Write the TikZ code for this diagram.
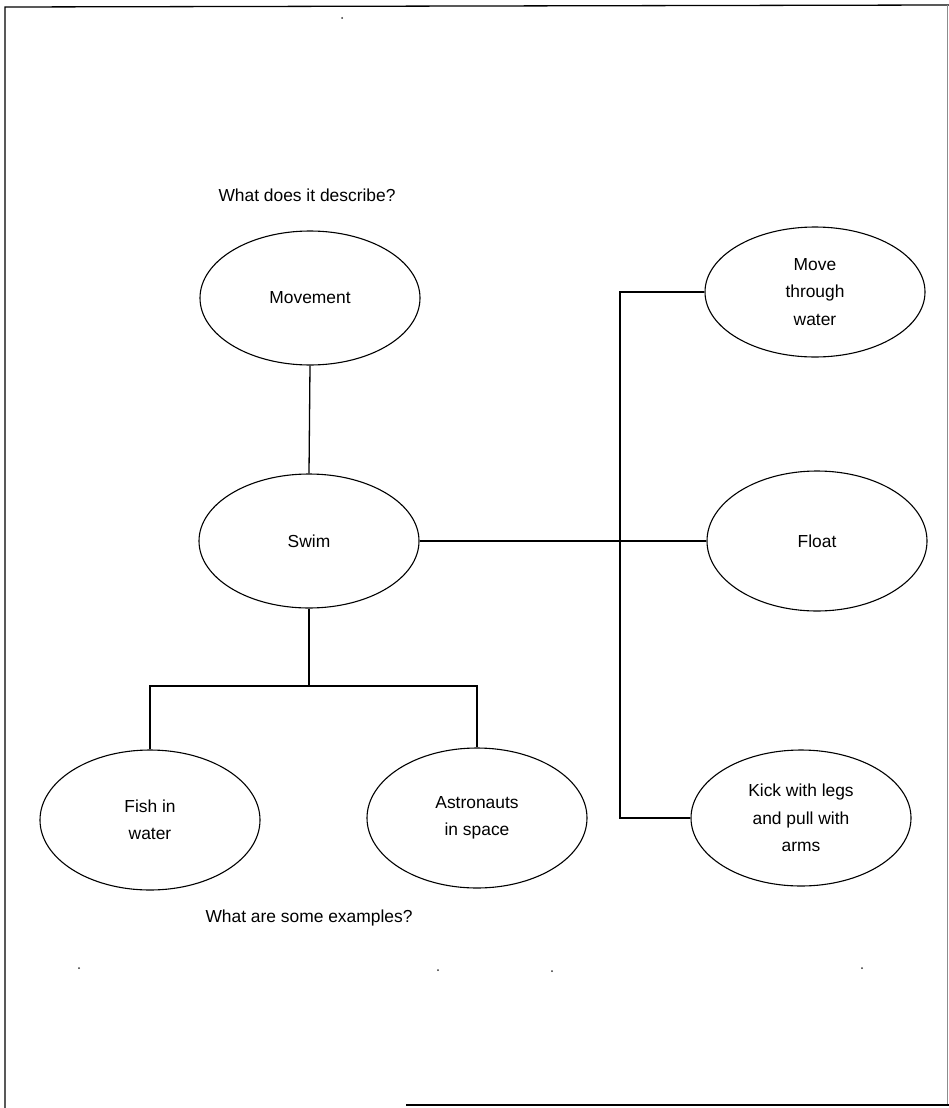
\documentclass[tikz,border=0pt]{standalone}
\usepackage{fontspec}
\setmainfont{Liberation Sans}
\usetikzlibrary{shapes.geometric}

\tikzset{
  idea/.style={ellipse, draw, line width=1.1pt, inner sep=0pt,
    minimum width=220pt, minimum height=134pt, align=center,
    font=\fontsize{17.4}{27.5}\selectfont},
  link/.style={line width=1.3pt},
  prompt/.style={font=\fontsize{17.4}{21}\selectfont, inner sep=0pt},
  frame/.style={line width=1.3pt},
  speck/.style={fill=black!80, inner sep=0pt, minimum size=2pt, circle}
}

\begin{document}
\begin{tikzpicture}[x=1pt, y=-1pt]
  \useasboundingbox (0,0) rectangle (949,1108);

  % page frame
  \draw[frame] (5,1108) -- (5,7) -- (949,5);
  \draw[line width=0.6pt, black!45] (947,5) -- (947,1105);
  \draw[frame] (406,1105) -- (949,1105);

  % prompts
  \node[prompt] (q1) at (307,195) {What does it describe?};
  \node[prompt] (q2) at (309,918) {What are some examples?};

  % concept ovals
  \node[idea] (mov)   at (310,298) {Movement};
  \node[idea] (swim)  at (309,541) {Swim};
  \node[idea, minimum height=130pt] (mtw) at (815,292) {Move\\through\\water};
  \node[idea, minimum height=140pt] (flt) at (817,541) {Float};
  \node[idea, minimum height=136pt] (kick) at (801,818) {Kick with legs\\and pull with\\arms};
  \node[idea, minimum height=140pt] (fish) at (150,820) {Fish in\\water};
  \node[idea, minimum height=140pt] (ast)  at (477,818) {Astronauts\\in space};

  % connectors
  \coordinate (split) at (309,686);
  \coordinate (rail)  at (620,292);
  \draw[link] (mov.south) -- (swim.north);
  \draw[link] (swim.south) -- (split);
  \draw[link] (fish.north) |- (split) -| (ast.north);
  \draw[link] (swim.east) -- (flt.west);
  \draw[link] (mtw.west) -- (rail) |- (kick.west);

  % stray specks
  \node[speck] (s0) at (342,18) {};
  \node[speck] (s1) at (79,968) {};
  \node[speck] (s2) at (438,970) {};
  \node[speck] (s3) at (552,971) {};
  \node[speck] (s4) at (862,968) {};
\end{tikzpicture}
\end{document}
